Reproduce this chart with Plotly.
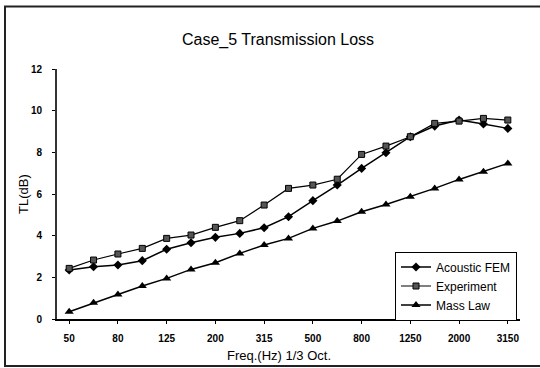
import plotly.graph_objects as go

freqs = ["50", "63", "80", "100", "125", "160", "200", "250", "315", "400",
         "500", "630", "800", "1000", "1250", "1600", "2000", "2500", "3150"]
tick_labels = ["50", "80", "125", "200", "315", "500", "800", "1250", "2000", "3150"]

acoustic_fem = [2.35, 2.51, 2.59, 2.80, 3.35, 3.66, 3.92, 4.11, 4.38, 4.91,
                5.68, 6.43, 7.23, 7.98, 8.75, 9.26, 9.55, 9.36, 9.15]
experiment = [2.43, 2.83, 3.12, 3.39, 3.87, 4.03, 4.40, 4.72, 5.47, 6.27,
              6.43, 6.71, 7.90, 8.30, 8.75, 9.39, 9.50, 9.63, 9.55]
mass_law = [0.35, 0.78, 1.18, 1.58, 1.95, 2.38, 2.70, 3.15, 3.55, 3.87,
            4.35, 4.70, 5.15, 5.50, 5.87, 6.27, 6.70, 7.07, 7.47]

W, H = 540, 368
L, R, T, B = 57, 20, 69, 49
PW, PH = W - L - R, H - T - B

def px(x):
    return (x - L) / PW

def py(y):
    return (H - B - y) / PH

fig = go.Figure()
fig.add_trace(go.Scatter(x=freqs, y=acoustic_fem, name="Acoustic FEM", mode="lines+markers",
                         line=dict(color="black", width=1.5),
                         marker=dict(symbol="diamond", size=7, color="black")))
fig.add_trace(go.Scatter(x=freqs, y=experiment, name="Experiment", mode="lines+markers",
                         line=dict(color="black", width=1.2),
                         marker=dict(symbol="square", size=6, color="#555555",
                                     line=dict(color="black", width=1))))
fig.add_trace(go.Scatter(x=freqs, y=mass_law, name="Mass Law", mode="lines+markers",
                         line=dict(color="black", width=1.5),
                         marker=dict(symbol="triangle-up", size=8, color="black")))

font = "Liberation Sans, Arial, sans-serif"
fig.update_layout(
    width=W, height=H,
    margin=dict(l=L, r=R, t=T, b=B, autoexpand=False),
    paper_bgcolor="white", plot_bgcolor="white",
    font=dict(family=font, color="black"),
    title=dict(text="Case_5 Transmission Loss", x=px(278), xanchor="center", xref="paper",
               y=1 - 39 / H, yanchor="middle", font=dict(size=16, family=font)),
    xaxis=dict(type="category", range=[-0.5, 18.5], tickmode="array", automargin=False,
               tickvals=tick_labels, ticktext=tick_labels,
               showgrid=False, zeroline=False, showline=True, linecolor="black", linewidth=1.5,
               ticks="outside", ticklen=3, tickcolor="black", ticklabelstandoff=6,
               tickfont=dict(size=10, family=font, weight="bold")),
    yaxis=dict(range=[0, 12], tickvals=[0, 2, 4, 6, 8, 10, 12], automargin=False,
               showgrid=False, zeroline=False, showline=True, linecolor="#333333", linewidth=2,
               ticks="outside", ticklen=3, tickcolor="black", ticklabelstandoff=8,
               tickfont=dict(size=10, family=font, weight="bold")),
    legend=dict(x=px(395), y=py(286), xanchor="left", yanchor="middle",
                bgcolor="white", bordercolor="black", borderwidth=1,
                font=dict(size=12, family=font), tracegroupgap=0, itemwidth=30),
    showlegend=True,
)

fig.add_annotation(text="Freq.(Hz) 1/3 Oct.", xref="paper", yref="paper",
                   x=px(279), y=py(355), xanchor="center", yanchor="middle",
                   showarrow=False, font=dict(size=13, family=font))
fig.add_annotation(text="TL(dB)", xref="paper", yref="paper", textangle=-90,
                   x=px(23), y=py(194), xanchor="center", yanchor="middle",
                   showarrow=False, font=dict(size=13, family=font))

fig.add_shape(type="rect", xref="paper", yref="paper",
              x0=px(5), x1=px(546), y0=py(366), y1=py(6.5),
              line=dict(color="#222222", width=2), fillcolor="rgba(0,0,0,0)", layer="below")

fig.write_html("out.html")
